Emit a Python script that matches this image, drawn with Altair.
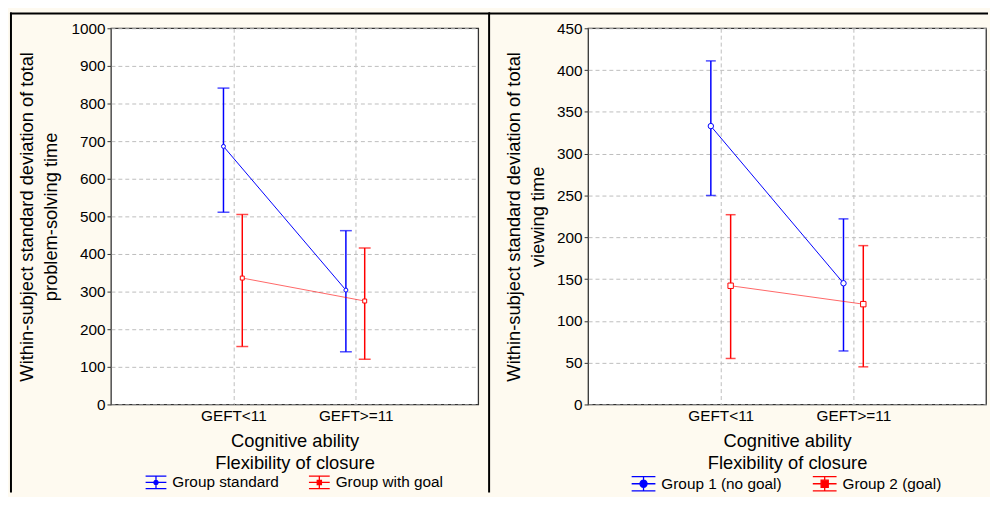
import math
import altair as alt
import pandas as pd

# ---------------- data ----------------
cat_pos = [1, 2]
cat_labels = ["GEFT<11", "GEFT>=11"]

left_groups = ["Group standard", "Group with goal"]
left_means = [[686, 304], [336, 275]]
left_lows = [[511, 140], [154, 120]]
left_highs = [[841, 462], [505, 416]]

right_groups = ["Group 1 (no goal)", "Group 2 (goal)"]
right_means = [[333, 145], [142, 120]]
right_lows = [[250, 64], [55, 45]]
right_highs = [[411, 222], [227, 190]]

x_title = ["Cognitive ability", "Flexibility of closure"]
left_y_title = ["Within-subject standard deviation of total", "problem-solving time"]
right_y_title = ["Within-subject standard deviation of total", "viewing time"]

colors = ["#0000ff", "#ff0000"]
FONT = "Liberation Sans"
BG = "#fefaf0"
LABEL_FS = 15.5
TITLE_FS = 18.5


def f(v):
    return "{:.3f}".format(v)


def glyph(marker, r):
    h = 0.6
    p = []
    p.append("M-1,-{h}L1,-{h}".format(h=h))
    p.append("M-1,{h}L1,{h}".format(h=h))
    p.append("M0,-{h}L0,-{r}".format(h=h, r=r))
    p.append("M0,{r}L0,{h}".format(h=h, r=r))
    p.append("M-1,0L-{r},0".format(r=r))
    p.append("M{r},0L1,0".format(r=r))
    if marker == "circle":
        pts = []
        n = 16
        for k in range(n):
            a = 2 * math.pi * k / n
            pts.append((r * math.cos(a), r * math.sin(a)))
        s = "M" + f(pts[0][0]) + "," + f(pts[0][1])
        for (px, py) in pts[1:]:
            s += "L" + f(px) + "," + f(py)
        s += "Z"
        p.append(s)
    else:
        p.append("M-{r},-{r}L{r},-{r}L{r},{r}L-{r},{r}Z".format(r=r))
    return "".join(p)


def panel(groups, means, lows, highs, ymax, ystep, ytitle, ytitle_pad, width, cap, msize,
          offsets, glyph_r, glyph_size, legend_x, col_pad, borders):
    rows = []
    for g, ms, ls, hs in zip(groups, means, lows, highs):
        for c, m, l, h in zip(cat_pos, ms, ls, hs):
            rows.append({"group": g, "cat": c, "mean": m, "lo": l, "hi": h})
    df = pd.DataFrame(rows)

    label_expr = "datum.value == {} ? '{}' : '{}'".format(cat_pos[0], cat_labels[0], cat_labels[1])
    xenc = alt.X("cat:Q", scale=alt.Scale(domain=[0, 3], nice=False),
                 axis=alt.Axis(values=cat_pos, labelExpr=label_expr, title=x_title,
                               ticks=False, labelPadding=4, titlePadding=8,
                               labelFontSize=LABEL_FS, titleFontSize=TITLE_FS,
                               labelFont=FONT, titleFont=FONT,
                               titleLineHeight=22, grid=True))
    yscale = alt.Scale(domain=[0, ymax], nice=False)
    yaxis = alt.Axis(values=list(range(0, ymax + 1, ystep)), title=ytitle, format="d",
                     tickSize=4, labelPadding=2, titlePadding=ytitle_pad, titleLineHeight=24,
                     labelFontSize=LABEL_FS, titleFontSize=TITLE_FS,
                     labelFont=FONT, titleFont=FONT, grid=True)
    cscale = alt.Scale(domain=groups, range=colors)
    glyphs = [glyph("circle", glyph_r), glyph("square", glyph_r)]
    legend = alt.Legend(orient="none", legendX=legend_x, legendY=447, direction="horizontal",
                        title=None, symbolSize=glyph_size, symbolStrokeWidth=1.3,
                        symbolFillColor="white", symbolOpacity=1, labelOffset=5,
                        columnPadding=col_pad, padding=0, labelFontSize=LABEL_FS,
                        labelFont=FONT, labelColor="black")
    color_leg = alt.Color("group:N", scale=cscale, legend=legend)
    color = alt.Color("group:N", scale=cscale, legend=None)

    layers = []
    # legend carrier (no visible marks)
    layers.append(
        alt.Chart(df).transform_filter("datum.cat > 10").mark_point(
            filled=False, strokeWidth=1.3, opacity=1).encode(
            x=xenc, y=alt.Y("mean:Q", scale=yscale, axis=yaxis), color=color_leg,
            shape=alt.Shape("group:N", scale=alt.Scale(domain=groups, range=glyphs), legend=legend))
    )
    shapes = ["circle", "square"]
    for i, g in enumerate(groups):
        base = alt.Chart(df).transform_filter(alt.datum.group == g)
        o = offsets[i]
        layers.append(base.mark_rule(xOffset=o, strokeWidth=1.5).encode(
            x=xenc, y=alt.Y("lo:Q", scale=yscale, axis=yaxis), y2="hi:Q", color=color))
        layers.append(base.mark_tick(orient="horizontal", xOffset=o, size=cap, thickness=1.5).encode(
            x=xenc, y=alt.Y("lo:Q", scale=yscale, axis=yaxis), color=color))
        layers.append(base.mark_tick(orient="horizontal", xOffset=o, size=cap, thickness=1.5).encode(
            x=xenc, y=alt.Y("hi:Q", scale=yscale, axis=yaxis), color=color))
        layers.append(base.mark_line(xOffset=o, strokeWidth=1, opacity=1.0 if i == 0 else 0.6).encode(
            x=xenc, y=alt.Y("mean:Q", scale=yscale, axis=yaxis), color=color))
        layers.append(base.mark_point(shape=shapes[i], filled=False, fill="white", fillOpacity=1,
                                      opacity=1, size=msize, strokeWidth=1, xOffset=o).encode(
            x=xenc, y=alt.Y("mean:Q", scale=yscale, axis=yaxis), color=color))

    bdf = pd.DataFrame({"k": [0]})
    for b in borders:
        layers.append(alt.Chart(bdf).mark_rule(color="black", strokeWidth=2).encode(**b))

    return alt.layer(*layers).properties(width=width, height=380)


left_borders = [
    dict(x=alt.value(-102), x2=alt.value(383), y=alt.value(-15)),
    dict(x=alt.value(-101), y=alt.value(-16), y2=alt.value(469)),
    dict(x=alt.value(382), y=alt.value(-16), y2=alt.value(469)),
]
right_borders = [
    dict(x=alt.value(-100), x2=alt.value(404), y=alt.value(-15)),
]

left = panel(left_groups, left_means, left_lows, left_highs, 1000, 100, left_y_title, 11,
             371, 12, 16, [-10, 9], 0.2, 441, 34, 27, left_borders)
right = panel(right_groups, right_means, right_lows, right_highs, 450, 50, right_y_title, 9,
              402, 10, 30, [-10, 10], 0.3, 576, 43, 28, right_borders)

chart = alt.hconcat(left, right, spacing=111, bounds="flush").resolve_scale(
    color="independent", shape="independent"
).resolve_legend(
    color="independent", shape="independent"
).properties(
    padding={"left": 0, "right": 0, "top": 0, "bottom": 0},
    background=BG,
).configure_view(
    stroke="#333333", strokeWidth=1.3, fill="white"
).configure_axis(
    labelFont=FONT, titleFont=FONT, labelColor="black", titleColor="black",
    labelFontSize=LABEL_FS, titleFontSize=TITLE_FS, titleFontWeight="normal",
    gridColor="#bdbdbd", gridDash=[4, 3], gridWidth=1, tickColor="#333333", domain=False
).configure_legend(
    labelFont=FONT, labelFontSize=LABEL_FS, labelColor="black"
)

chart.save("out.html", embed_options={"renderer": "svg", "actions": False})
